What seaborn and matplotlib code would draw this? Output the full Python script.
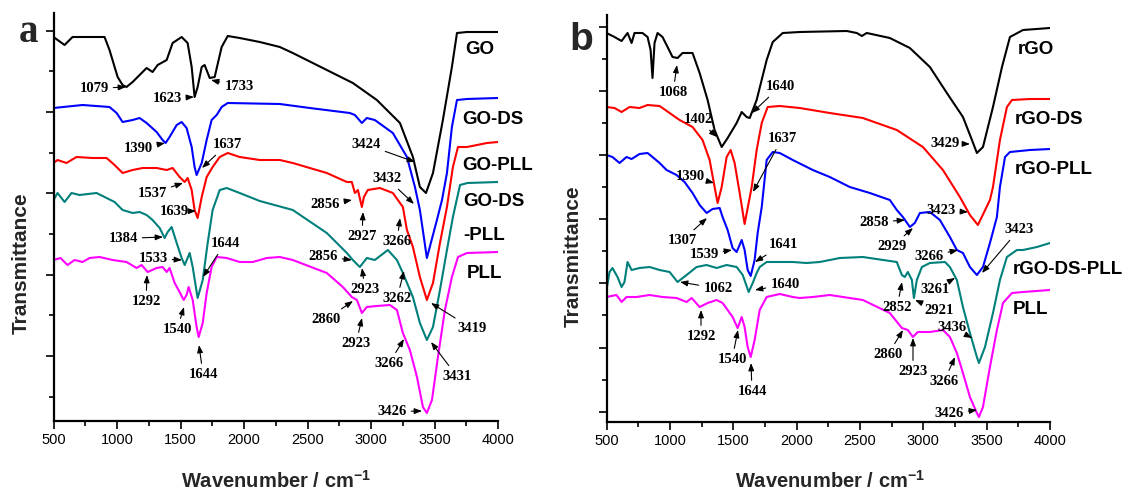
import numpy as np
import pandas as pd
import matplotlib
matplotlib.use("Agg")
import matplotlib.pyplot as plt
from matplotlib import font_manager as fm
import seaborn as sns

# ---------------- data (wavenumber / cm-1, transmittance in a.u.) ----------------
# panel a
GO_wn = [500,587,650,902,941,1005,1044,1075,1123,1178,1233,1280,1320,1391,1438,1509,1556,1588,1611,1635,
         1667,1690,1730,1769,1824,1872,1966,2124,2282,2384,2652,2857,3046,3228,3330,3385,3433,3488,3566,3637,
         3677,3756,4000]
GO_t = [384,376,384,384,371,344,336,334,339,346,353,349,356,361,378,384,378,354,324,334,
        354,356,343,344,374,385,383,379,374,368,351,338,321,298,264,234,228,248,301,354,
        388,389,389]

GODS_wn = [500,729,941,997,1044,1123,1178,1233,1312,1359,1383,1414,1470,1509,1548,1588,1611,1627,1667,1706,
           1745,1785,1824,1872,2282,2518,2833,2873,2928,2967,3030,3172,3283,3346,3385,3440,3519,3559,3598,3637,
           3677,3756,4000]
GODS_t = [313,316,314,308,299,301,303,298,289,281,278,284,296,299,293,274,254,246,258,281,
          301,306,314,318,317,313,308,306,298,303,301,288,264,234,211,163,201,221,248,294,
          321,322,323]

GOPLL_wn = [500,532,602,681,807,918,981,1044,1123,1202,1312,1391,1438,1493,1533,1556,1588,1611,1635,1667,
            1706,1753,1809,1872,1966,2124,2282,2384,2652,2810,2849,2873,2897,2928,2944,2975,3070,3172,3251,3283,
            3330,3385,3440,3488,3543,3598,3645,3685,3756,3835,3913,4000]
GOPLL_t = [258,261,258,264,263,263,256,248,251,253,253,251,253,244,239,243,231,211,203,224,
           244,254,264,268,264,261,261,258,248,239,239,228,231,214,224,231,233,228,214,191,
           174,144,121,138,178,214,254,274,274,276,278,279]

GODSPLL_wn = [500,532,587,642,705,839,918,981,1044,1123,1178,1233,1280,1336,1375,1399,1430,1470,1509,1533,
              1572,1596,1635,1675,1714,1753,1809,1864,1966,2124,2384,2652,2810,2857,2912,2967,3030,3133,3204,3251,
              3330,3385,3440,3488,3543,3598,3645,3701,3760,4000]
GODSPLL_t = [221,228,219,228,226,228,223,219,211,208,209,206,201,193,183,189,194,178,163,156,
             168,154,123,141,178,211,231,233,228,220,211,188,168,161,154,163,161,171,161,148,
             124,98,81,94,131,171,204,236,238,239]

PLLa_wn = [500,555,610,666,729,784,863,965,1075,1154,1194,1241,1312,1359,1391,1414,1454,1493,1525,1548,
           1564,1596,1627,1643,1675,1706,1745,1785,1864,1966,2069,2179,2282,2384,2652,2778,2849,2889,2928,2967,
           3046,3149,3204,3251,3306,3362,3409,3440,3480,3527,3582,3637,3685,3756,4000]
PLLa_t = [161,163,156,161,159,163,164,161,159,153,156,149,153,154,149,153,138,129,121,126,
          134,121,94,84,98,128,154,164,163,159,159,163,164,161,148,134,124,121,108,114,
          115,116,111,88,71,44,14,8,21,64,111,144,164,168,169]

# panel b
rGO_wn = [500,563,619,666,698,721,784,824,848,863,879,903,942,982,1021,1061,1100,1179,1235,1298,
          1353,1409,1456,1527,1567,1606,1630,1685,1764,1812,1891,2025,2396,2475,2515,2554,2736,2894,3052,3186,
          3313,3384,3423,3471,3550,3621,3684,3787,4000]
rGO_t = [389,385,381,389,379,389,389,385,372,344,379,389,385,375,365,364,369,369,349,322,
         292,275,284,299,310,305,304,322,362,380,389,390,391,389,386,389,384,374,355,329,
         305,282,269,275,315,355,385,392,394]

rGODS_wn = [500,563,619,682,761,824,919,998,1077,1179,1258,1314,1353,1377,1409,1448,1480,1511,1551,1590,
            1646,1685,1725,1772,1867,2025,2262,2523,2791,2997,3155,3289,3368,3431,3526,3550,3605,3660,3700,3842,
            4000]
rGODS_t = [315,314,310,315,314,317,316,309,302,295,282,262,235,219,235,265,272,259,229,198,
           235,272,299,315,316,314,309,304,292,275,252,225,207,197,222,235,282,315,322,323,
           323]

rGOPLL_wn = [500,547,603,658,698,761,824,863,919,974,1053,1116,1179,1235,1290,1337,1393,1416,1456,1495,
             1527,1567,1590,1614,1638,1669,1693,1725,1764,1812,1867,1970,2128,2262,2420,2578,2736,2791,2839,2894,
             2933,2973,3052,3131,3210,3265,3313,3368,3423,3471,3526,3581,3605,3645,3684,3842,4000]
rGOPLL_t = [267,265,259,265,263,268,269,265,259,252,247,240,229,217,209,213,214,205,192,174,
            170,182,172,152,146,162,189,215,262,270,269,262,252,245,235,229,222,212,205,195,
            199,209,210,202,185,172,169,155,147,155,179,205,235,265,270,272,273]

rGODSPLL_wn = [500,524,547,587,619,642,666,698,761,840,919,998,1061,1132,1211,1290,1369,1448,1527,1575,
               1622,1654,1685,1709,1764,1970,2080,2183,2341,2523,2791,2831,2854,2878,2910,2926,2949,2989,3052,3171,
               3210,3265,3313,3368,3423,3439,3487,3550,3605,3660,3739,3787,3897,4000]
rGODSPLL_t = [132,150,154,145,135,140,160,152,154,155,152,150,140,147,155,157,154,157,155,147,
              130,139,149,155,160,160,159,160,164,165,160,147,145,150,142,124,142,155,159,160,
              155,142,115,89,65,59,75,109,142,165,172,172,175,179]

PLLb_wn = [500,579,619,658,737,840,942,1053,1132,1172,1235,1298,1369,1416,1456,1495,1535,1567,1590,1614,
           1638,1669,1709,1764,1867,1970,2025,2128,2262,2523,2736,2831,2878,2918,2957,3052,3155,3210,3265,3313,
           3368,3423,3439,3471,3526,3581,3629,3700,3787,4000]
PLLb_t = [125,127,120,125,125,127,125,124,120,124,115,119,122,119,112,105,94,105,95,75,
          65,82,112,125,128,125,124,125,127,122,109,94,92,85,90,90,92,85,69,49,
          25,9,5,15,55,92,119,129,130,132]

x_ticks = [500, 1000, 1500, 2000, 2500, 3000, 3500, 4000]
x_tick_labels = ["500", "1000", "1500", "2000", "2500", "3000", "3500", "4000"]

# ---------------- style ----------------
sns.set_theme(style="ticks")
names = {f.name for f in fm.fontManager.ttflist}
narrow = "Liberation Sans Narrow" in names
SANS = ["Liberation Sans", "DejaVu Sans"]
NARROW = ["Liberation Sans Narrow", "Liberation Sans", "DejaVu Sans"] if narrow else SANS
plt.rcParams["font.family"] = SANS
plt.rcParams["mathtext.fontset"] = "custom"
plt.rcParams["mathtext.rm"] = "Liberation Sans:bold"
plt.rcParams["mathtext.bf"] = "Liberation Sans:bold"
plt.rcParams["axes.unicode_minus"] = True

W, H = 1131, 491
fig = plt.figure(figsize=(W / 100, H / 100), dpi=100)

def fp(x, y):
    return (x / W, 1 - y / H)

def axes_px(left, right, top, bottom):
    return fig.add_axes([left / W, 1 - bottom / H, (right - left) / W, (bottom - top) / H])

ax_a = axes_px(53.5, 498, 13, 421)
ax_b = axes_px(606.5, 1050, 15, 422)

BLACK, BLUE, RED, TEAL, MAG = "#000000", "#0000ff", "#ff0000", "#00807a", "#ff00ff"

series_a = [(GO_wn, GO_t, BLACK), (GODS_wn, GODS_t, BLUE), (GOPLL_wn, GOPLL_t, RED),
            (GODSPLL_wn, GODSPLL_t, TEAL), (PLLa_wn, PLLa_t, MAG)]
series_b = [(rGO_wn, rGO_t, BLACK), (rGODS_wn, rGODS_t, RED), (rGOPLL_wn, rGOPLL_t, BLUE),
            (rGODSPLL_wn, rGODSPLL_t, TEAL), (PLLb_wn, PLLb_t, MAG)]

tick_fs = 12 if narrow else 10.5

def style_axis(ax, ytop, y0, ystep, n, long_parity):
    ax.set_xlim(500, 4000)
    ax.set_ylim(0, ytop)
    ax.set_xticks(x_ticks)
    ax.set_xticklabels(x_tick_labels, fontsize=tick_fs, family=NARROW)
    ax.set_xticks(np.arange(750, 4000, 500), minor=True)
    yt = [y0 + ystep * k for k in range(n)]
    ax.set_yticks([v for k, v in enumerate(yt) if k % 2 == long_parity])
    ax.set_yticks([v for k, v in enumerate(yt) if k % 2 != long_parity], minor=True)
    ax.tick_params(axis="y", labelleft=False)
    ax.tick_params(which="major", length=5.5, width=1.2, color="black", direction="out", pad=3)
    ax.tick_params(which="minor", length=3.5, width=1.2, color="black", direction="out")
    ax.tick_params(axis="x", labelcolor="black")
    for s in ["top", "right"]:
        ax.spines[s].set_visible(False)
    for s in ["left", "bottom"]:
        ax.spines[s].set_linewidth(1.6)
        ax.spines[s].set_color("black")
    ax.set_xlabel("")
    ax.set_ylabel("")
    ax.patch.set_alpha(0)

for ax, series in [(ax_a, series_a), (ax_b, series_b)]:
    for wn, t, col in series:
        df = pd.DataFrame({"wn": wn, "t": t})
        sns.lineplot(data=df, x="wn", y="t", color=col, lw=1.5, ax=ax, estimator=None, sort=False)

style_axis(ax_a, 408, 24.3, 40.67, 10, 1)
style_axis(ax_b, 407, 10.3, 32.08, 13, 0)

# ---------------- text ----------------
NUM = dict(family=["Liberation Serif", "DejaVu Serif"], fontsize=10.5, fontweight="bold", color="black")
ARROW = dict(arrowstyle="-|>,head_length=0.45,head_width=0.17", color="black", lw=0.8,
             mutation_scale=10, shrinkA=1, shrinkB=0)

ann_a = [("1079", (94, 87), (126, 87)), ("1623", (167, 97), (194, 97)), ("1733", (239, 85), (211, 80)),
         ("1390", (138, 147), (165, 143)), ("1637", (227, 143), (202, 168)), ("1537", (152, 192), (183, 183)),
         ("1639", (174, 210), (196, 211)), ("1384", (123, 237), (163, 237)), ("1533", (153, 257), (182, 260)),
         ("1644", (225, 242), (203, 277)), ("1292", (146, 300), (147, 275)), ("1540", (177, 328), (184, 307)),
         ("1644", (203, 373), (199, 345)), ("3424", (366, 143), (415, 162)), ("3432", (387, 177), (414, 204)),
         ("2856", (325, 203), (352, 200)), ("2927", (362, 235), (363, 212)), ("3266", (397, 240), (400, 218)),
         ("2856", (323, 255), (352, 260)), ("2923", (365, 288), (362, 268)), ("3262", (397, 297), (404, 271)),
         ("3419", (472, 327), (431, 303)), ("2860", (326, 318), (353, 301)), ("2923", (356, 342), (362, 318)),
         ("3266", (389, 362), (404, 339)), ("3431", (457, 375), (431, 342)), ("3426", (392, 410), (422, 411))]
ann_b = [("1068", (673, 91), (677, 65)), ("1640", (780, 85), (752, 113)), ("1402", (698, 118), (717, 137)),
         ("1637", (782, 137), (753, 192)), ("1390", (690, 175), (714, 183)), ("1307", (682, 239), (707, 218)),
         ("1539", (704, 253), (732, 250)), ("1641", (783, 243), (755, 262)), ("1062", (718, 287), (680, 282)),
         ("1640", (785, 283), (755, 290)), ("1292", (701, 335), (701, 310)), ("1540", (732, 358), (738, 330)),
         ("1644", (752, 390), (751, 363)), ("3429", (945, 142), (970, 144)), ("3423", (941, 209), (968, 212)),
         ("2858", (874, 221), (905, 220)), ("2929", (892, 245), (913, 228)), ("3266", (929, 255), (958, 250)),
         ("3423", (1019, 228), (982, 273)), ("2852", (897, 306), (902, 282)), ("2921", (939, 309), (915, 300)),
         ("3261", (935, 288), (955, 278)), ("3436", (952, 326), (972, 338)), ("2860", (888, 353), (903, 330)),
         ("2923", (913, 370), (913, 338)), ("3266", (944, 380), (955, 357)), ("3426", (949, 412), (977, 410))]

for ax, anns in [(ax_a, ann_a), (ax_b, ann_b)]:
    for txt, (tx, ty), (px, py) in anns:
        ax.annotate(txt, xy=fp(px, py), xycoords="figure fraction",
                    xytext=fp(tx, ty + 5), textcoords="figure fraction",
                    ha="center", va="baseline", arrowprops=ARROW, annotation_clip=False,
                    zorder=5, **NUM)

LAB = dict(family=SANS, fontsize=13.5, fontweight="bold", color="black", ha="left", va="baseline")
labels = [("GO", 465, 48), ("GO-DS", 462, 118), ("GO-PLL", 462, 163), ("GO-DS", 463, 200), ("-PLL", 463, 233),
          ("PLL", 467, 272), ("rGO", 1018, 47), ("rGO-DS", 1015, 118), ("rGO-PLL", 1015, 168),
          ("rGO-DS-PLL", 1013, 267), ("PLL", 1013, 307)]
for txt, x, y in labels:
    fig.text(*fp(x, y + 6.5), txt, **LAB)

fig.text(*fp(29, 42), "a", family=["Liberation Serif"], fontsize=28, fontweight="bold", ha="center", va="baseline")
fig.text(*fp(581.5, 50), "b", family=SANS, fontsize=28, fontweight="bold", ha="center", va="baseline")

ylab_fs = 17 if narrow else 15
for x, y in [(21, 263), (573, 256)]:
    fig.text(*fp(x, y), "Transmittance", family=NARROW, fontsize=ylab_fs, fontweight="bold",
             rotation=90, ha="center", va="center")
for x in [276, 830]:
    fig.text(*fp(x, 488), r"Wavenumber / cm$^{\mathbf{-1}}$", family=SANS, fontsize=14.5,
             fontweight="bold", ha="center", va="baseline")

fig.savefig("out.png", dpi=100, facecolor="white")
